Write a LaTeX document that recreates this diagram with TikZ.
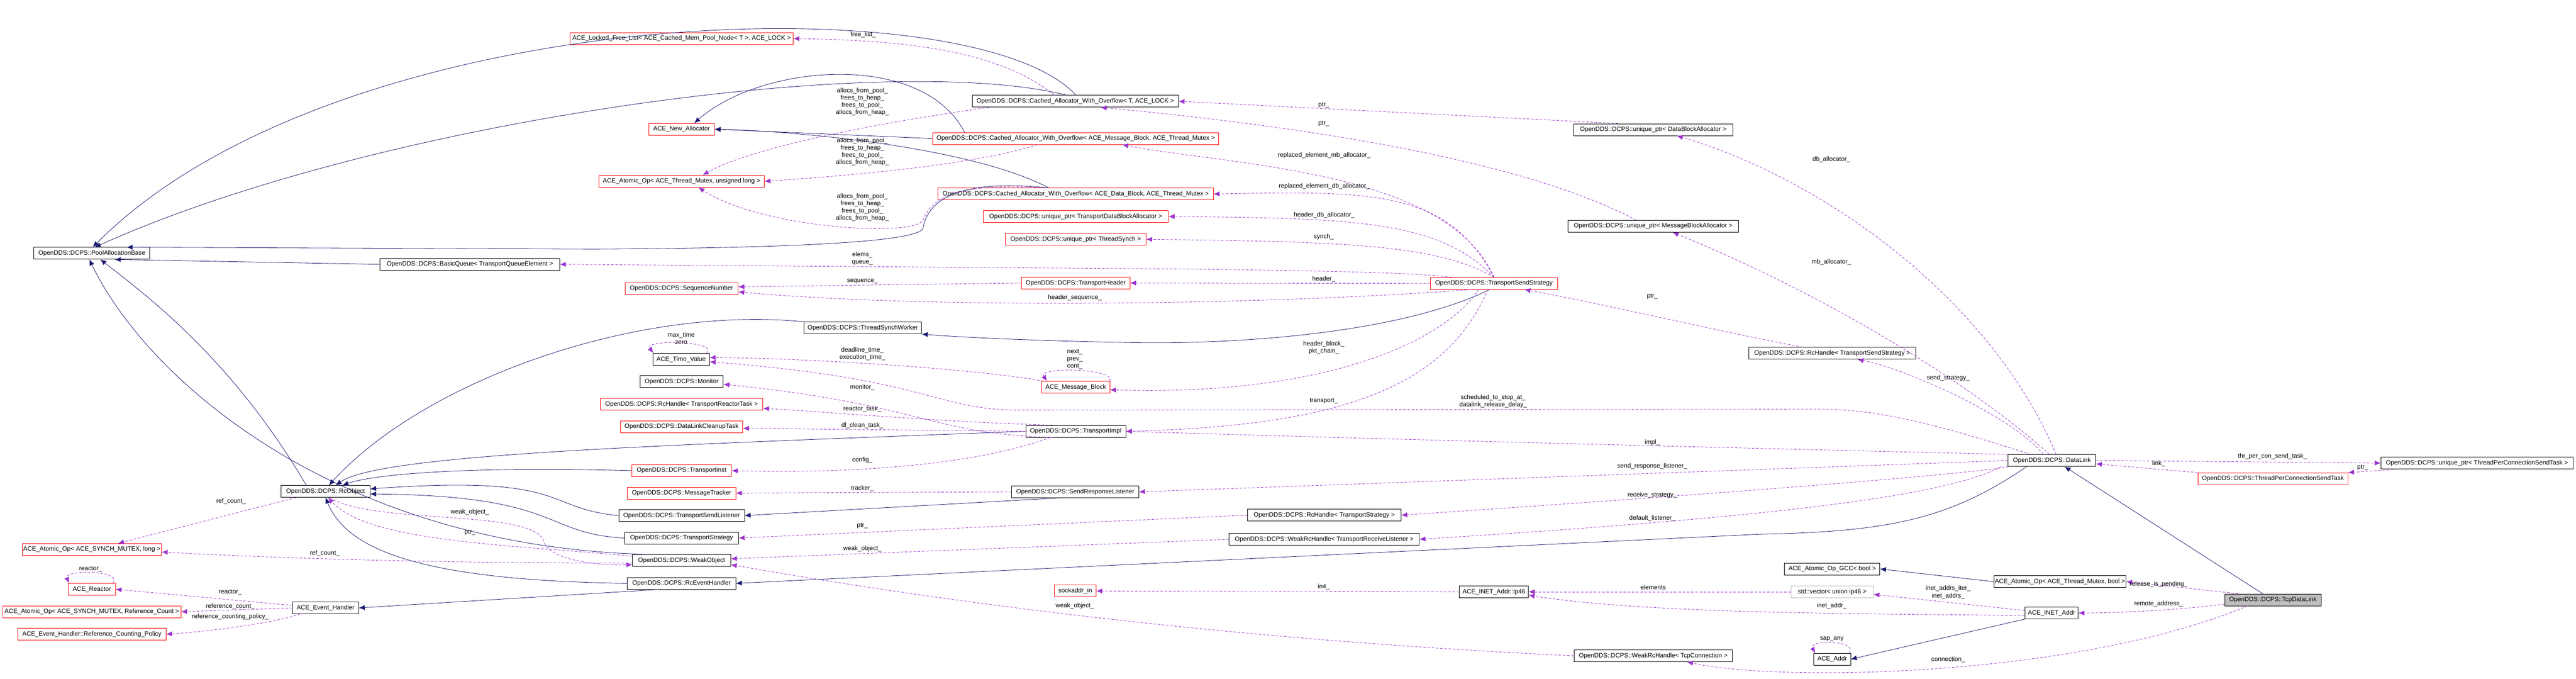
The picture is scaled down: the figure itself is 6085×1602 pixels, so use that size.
\documentclass[tikz,border=0pt]{standalone}
\usepackage{fontspec}
\setmainfont{Liberation Sans}
\usetikzlibrary{arrows.meta}
\definecolor{navyc}{RGB}{25,25,112}
\definecolor{purpc}{RGB}{154,50,205}
\definecolor{redc}{RGB}{255,0,0}
\definecolor{grayf}{RGB}{191,191,191}
\newcommand{\dxf}{\fontsize{7.4}{8.6}\selectfont}
\tikzset{
 box/.style={draw=black, fill=white, line width=0.5pt, minimum height=14pt, inner sep=1pt, font=\dxf},
 rbox/.style={box, draw=redc},
 gbox/.style={box, draw=grayf},
 inh/.style={draw=navyc, line width=0.5pt, -{Latex[length=7pt,width=6pt]}},
 use/.style={draw=purpc, line width=0.5pt, dashed, dash pattern=on 3pt off 2pt, -{Latex[length=7pt,width=6pt]}},
 lab/.style={font=\dxf, align=center, inner sep=0pt}
}
\begin{document}
\begin{tikzpicture}[x=0.5pt,y=-0.5pt]
\useasboundingbox (0,0) rectangle (6085,1602);
% nodes
\node[box, minimum width={274*0.5pt}] (PAB) at (217,598) {OpenDDS::DCPS::PoolAllocationBase};
\node[rbox, minimum width={527*0.5pt}] (LFL) at (1610,91) {ACE\_Locked\_Free\_List< ACE\_Cached\_Mem\_Pool\_Node< T >, ACE\_LOCK >};
\node[rbox, minimum width={155*0.5pt}] (NA) at (1610,305) {ACE\_New\_Allocator};
\node[rbox, minimum width={391*0.5pt}] (AOUL) at (1610,428) {ACE\_Atomic\_Op< ACE\_Thread\_Mutex, unsigned long >};
\node[box, minimum width={424*0.5pt}] (BQ) at (1110,624) {OpenDDS::DCPS::BasicQueue< TransportQueueElement >};
\node[rbox, minimum width={267*0.5pt}] (SN) at (1610,681) {OpenDDS::DCPS::SequenceNumber};
\node[box, minimum width={134*0.5pt}] (TV) at (1609,848) {ACE\_Time\_Value};
\node[box, minimum width={197*0.5pt}] (MON) at (1610,901) {OpenDDS::DCPS::Monitor};
\node[rbox, minimum width={384*0.5pt}] (RHTRT) at (1610,954) {OpenDDS::DCPS::RcHandle< TransportReactorTask >};
\node[rbox, minimum width={289*0.5pt}] (DLCT) at (1610,1007) {OpenDDS::DCPS::DataLinkCleanupTask};
\node[rbox, minimum width={236*0.5pt}] (TI) at (1610,1111) {OpenDDS::DCPS::TransportInst};
\node[rbox, minimum width={256*0.5pt}] (MT) at (1610,1164) {OpenDDS::DCPS::MessageTracker};
\node[box, minimum width={297*0.5pt}] (TSL) at (1610,1217) {OpenDDS::DCPS::TransportSendListener};
\node[box, minimum width={269*0.5pt}] (TS) at (1610,1270) {OpenDDS::DCPS::TransportStrategy};
\node[box, minimum width={232*0.5pt}] (WO) at (1610,1323) {OpenDDS::DCPS::WeakObject};
\node[box, minimum width={256*0.5pt}] (REH) at (1610,1377) {OpenDDS::DCPS::RcEventHandler};
\node[box, minimum width={210*0.5pt}] (RCO) at (769,1160) {OpenDDS::DCPS::RcObject};
\node[rbox, minimum width={329*0.5pt}] (AOL) at (217,1297) {ACE\_Atomic\_Op< ACE\_SYNCH\_MUTEX, long >};
\node[rbox, minimum width={111*0.5pt}] (AR) at (217,1391) {ACE\_Reactor};
\node[rbox, minimum width={421*0.5pt}] (AORC) at (217,1444) {ACE\_Atomic\_Op< ACE\_SYNCH\_MUTEX, Reference\_Count >};
\node[rbox, minimum width={350*0.5pt}] (RCP) at (217,1497) {ACE\_Event\_Handler::Reference\_Counting\_Policy};
\node[box, minimum width={156*0.5pt}] (AEH) at (769,1435) {ACE\_Event\_Handler};
\node[box, minimum width={487*0.5pt}] (CT) at (2540,239) {OpenDDS::DCPS::Cached\_Allocator\_With\_Overflow< T, ACE\_LOCK >};
\node[rbox, minimum width={676*0.5pt}] (CMB) at (2541,327) {OpenDDS::DCPS::Cached\_Allocator\_With\_Overflow< ACE\_Message\_Block, ACE\_Thread\_Mutex >};
\node[rbox, minimum width={650*0.5pt}] (CDB) at (2541,458) {OpenDDS::DCPS::Cached\_Allocator\_With\_Overflow< ACE\_Data\_Block, ACE\_Thread\_Mutex >};
\node[rbox, minimum width={438*0.5pt}] (UTDBA) at (2541,511) {OpenDDS::DCPS::unique\_ptr< TransportDataBlockAllocator >};
\node[rbox, minimum width={332*0.5pt}] (UTS) at (2541,565) {OpenDDS::DCPS::unique\_ptr< ThreadSynch >};
\node[rbox, minimum width={256*0.5pt}] (TH) at (2541,668) {OpenDDS::DCPS::TransportHeader};
\node[box, minimum width={278*0.5pt}] (TSW) at (2038,774) {OpenDDS::DCPS::ThreadSynchWorker};
\node[rbox, minimum width={161*0.5pt}] (AMB) at (2541,914) {ACE\_Message\_Block};
\node[box, minimum width={236*0.5pt}] (TIMP) at (2541,1018) {OpenDDS::DCPS::TransportImpl};
\node[box, minimum width={300*0.5pt}] (SRL) at (2540,1161) {OpenDDS::DCPS::SendResponseListener};
\node[box, minimum width={363*0.5pt}] (RHTS) at (3128,1216) {OpenDDS::DCPS::RcHandle< TransportStrategy >};
\node[box, minimum width={449*0.5pt}] (WRTRL) at (3128,1273) {OpenDDS::DCPS::WeakRcHandle< TransportReceiveListener >};
\node[rbox, minimum width={98*0.5pt}] (SIN) at (2540,1395) {sockaddr\_in};
\node[box, minimum width={376*0.5pt}] (UDBA) at (3905,306) {OpenDDS::DCPS::unique\_ptr< DataBlockAllocator >};
\node[box, minimum width={402*0.5pt}] (UMBA) at (3905,534) {OpenDDS::DCPS::unique\_ptr< MessageBlockAllocator >};
\node[rbox, minimum width={300*0.5pt}] (TSS) at (3529,669) {OpenDDS::DCPS::TransportSendStrategy};
\node[box, minimum width={395*0.5pt}] (RHTSS) at (4328,834) {OpenDDS::DCPS::RcHandle< TransportSendStrategy >};
\node[box, minimum width={225*0.5pt}] (GCC) at (4328,1343) {ACE\_Atomic\_Op\_GCC< bool >};
\node[box, minimum width={163*0.5pt}] (IP46) at (3529,1397) {ACE\_INET\_Addr::ip46};
\node[gbox, minimum width={194*0.5pt}] (VEC) at (4328,1397) {std::vector< union ip46 >};
\node[box, minimum width={374*0.5pt}] (WRTC) at (3905,1548) {OpenDDS::DCPS::WeakRcHandle< TcpConnection >};
\node[box, minimum width={87*0.5pt}] (ADDR) at (4328,1556) {ACE\_Addr};
\node[box, minimum width={207*0.5pt}] (DL) at (4847,1087) {OpenDDS::DCPS::DataLink};
\node[box, minimum width={454*0.5pt}] (UTPC) at (5851,1093) {OpenDDS::DCPS::unique\_ptr< ThreadPerConnectionSendTask >};
\node[rbox, minimum width={354*0.5pt}] (TPC) at (5369,1130) {OpenDDS::DCPS::ThreadPerConnectionSendTask};
\node[box, minimum width={290*0.5pt}] (AOB) at (4866,1373) {ACE\_Atomic\_Op< ACE\_Thread\_Mutex, bool >};
\node[box, minimum width={126*0.5pt}] (INET) at (4846,1447) {ACE\_INET\_Addr};
\node[box, fill=grayf, minimum width={227*0.5pt}] (TCP) at (5369,1416) {OpenDDS::DCPS::TcpDataLink};
% inheritance
\draw[inh] (CT.85) .. controls (2300,-40) and (800,0) .. (PAB.82);
\draw[inh] (CT.145) .. controls (2100,120) and (900,280) .. (PAB.65);
\draw[inh] ([xshift=38pt]CMB.north west) .. controls (2180,120) and (1800,150) .. ([xshift=15pt]NA.north);
\draw[inh] (CMB.west) -- (NA.east);
\draw[inh] ([xshift=131pt]CDB.north west) .. controls (2300,350) and (1900,310) .. (NA.east);
\draw[inh] ([xshift=130pt]CDB.north west) .. controls (2250,420) and (2190,480) .. (2180,540) .. controls (2160,575) and (1800,586) .. (1400,588) -- (PAB.10);
\draw[inh] (BQ.west) -- (PAB.345);
\draw[inh] ([xshift=30pt]RCO.north west) .. controls (550,850) and (350,700) .. ([xshift=10pt]PAB.south);
\draw[inh] (WO.170) .. controls (800,1290) and (350,900) .. ([xshift=-3pt]PAB.south);
\draw[inh] (TSW.north west) .. controls (1500,720) and (1000,900) .. ([xshift=4pt]RCO.north);
\draw[inh] (TIMP.west) .. controls (1600,1050) and (900,1070) .. ([xshift=12pt]RCO.north);
\draw[inh] (TI.west) .. controls (1100,1100) and (880,1120) .. ([xshift=20pt]RCO.north);
\draw[inh] (TSL.west) .. controls (1280,1200) and (1350,1120) .. ([yshift=3pt]RCO.east);
\draw[inh] (TS.west) .. controls (1280,1260) and (1330,1170) .. ([yshift=-3pt]RCO.east);
\draw[inh] (REH.west) .. controls (1000,1370) and (820,1300) .. (RCO.south);
\draw[inh] (REH.195) -- (AEH.east);
\draw[inh] (SRL.200) -- (TSL.east);
\draw[inh] ([xshift=-30pt]DL.south) .. controls (4600,1230) and (4450,1255) .. (4157,1261) -- (REH.east);
\draw[inh] ([xshift=-5pt]TSS.south) .. controls (3300,790) and (2900,815) .. (2650,808) .. controls (2450,805) and (2250,795) .. (TSW.south east);
\draw[inh] ([xshift=-12pt]TCP.north) -- ([xshift=15pt]DL.south);
\draw[inh] (AOB.west) -- (GCC.east);
\draw[inh] (INET.south west) -- (ADDR.east);
% usage
\draw[use] ([xshift=-25pt]CT.north) .. controls (2350,110) and (2100,95) .. (LFL.east);
\draw[use] ([xshift=20pt]CT.south west) .. controls (2000,300) and (1750,360) .. ([xshift=25pt]AOUL.north);
\draw[use] ([xshift=-45pt]CMB.south) .. controls (2300,390) and (2000,415) .. (AOUL.east);
\draw[use] ([xshift=-37pt]CDB.north) .. controls (2250,430) and (2200,470) .. (2180,520) .. controls (2160,560) and (1800,540) .. ([xshift=20pt]AOUL.south);
\draw[use] (UDBA.170) -- (CT.east);
\draw[use] ([xshift=-20pt]UMBA.north) .. controls (3600,380) and (3100,300) .. ([xshift=30pt]CT.south);
\draw[use] (TSS.north) .. controls (3420,400) and (2900,390) .. ([xshift=55pt]CMB.south);
\draw[use] (TSS.north) .. controls (3420,450) and (3250,450) .. (CDB.east);
\draw[use] (TSS.north) .. controls (3400,520) and (3200,515) .. (UTDBA.east);
\draw[use] (TSS.north) .. controls (3400,580) and (3200,570) .. (UTS.east);
\draw[use] ([xshift=-50pt]TSS.north) .. controls (3350,645) and (3200,640) .. (2800,635) -- (BQ.east);
\draw[use] (TSS.west) -- (TH.east);
\draw[use] (TSS.195) .. controls (3000,720) and (2200,730) .. ([yshift=-4pt]SN.east);
\draw[use] (TH.west) -- ([yshift=2pt]SN.east);
\draw[use] ([xshift=-18pt]TSS.south) .. controls (3400,820) and (3100,935) .. ([yshift=-3pt]AMB.east);
\draw[use] ([xshift=40pt]AMB.north) .. controls (2640,870) and (2450,865) .. ([xshift=-34pt]AMB.north);
\draw[use] ([xshift=30pt]TV.north) .. controls (1700,805) and (1520,800) .. ([xshift=-33pt]TV.north);
\draw[use] ([xshift=-38pt]AMB.north) .. controls (2300,870) and (1900,845) .. ([yshift=2pt]TV.east);
\draw[use] (TIMP.195) .. controls (2200,1025) and (2180,955) .. ([yshift=-3pt]MON.east);
\draw[use] (TIMP.165) .. controls (2200,995) and (2000,975) .. ([yshift=-5pt]RHTRT.east);
\draw[use] (TIMP.west) -- ([yshift=-2pt]DLCT.east);
\draw[use] ([xshift=-30pt]TIMP.south) .. controls (2300,1100) and (2000,1118) .. (TI.east);
\draw[use] (SRL.west) -- (MT.east);
\draw[use] (RHTS.west) -- (TS.east);
\draw[use] (WRTRL.west) -- ([yshift=2pt]WO.east);
\draw[use] (WRTC.west) .. controls (2700,1500) and (2000,1380) .. ([yshift=-5pt]WO.east);
\draw[use] ([xshift=-7pt]TSS.south) .. controls (3420,900) and (3200,1005) .. (TIMP.east);
\draw[use] (DL.172) .. controls (4000,1055) and (3200,1035) .. (TIMP.east);
\draw[use] ([xshift=-25pt]DL.north) .. controls (4600,1010) and (4450,966) .. (4300,966) -- (2400,968) .. controls (2200,965) and (2200,895) .. ([yshift=-3pt]TV.east);
\draw[use] (DL.west) -- (SRL.east);
\draw[use] (DL.188) .. controls (4650,1120) and (4000,1170) .. (RHTS.east);
\draw[use] ([xshift=-60pt]DL.south) .. controls (4600,1170) and (4200,1220) .. (WRTRL.east);
\draw[use] ([xshift=-10pt]DL.north) .. controls (4750,980) and (4500,870) .. ([xshift=30pt]RHTSS.south);
\draw[use] ([xshift=-3pt]DL.north) .. controls (4650,900) and (4300,690) .. ([xshift=23pt]UMBA.south);
\draw[use] ([xshift=5pt]DL.north) .. controls (4700,700) and (4300,420) .. ([xshift=28pt]UDBA.south);
\draw[use] ([xshift=-35pt]RHTSS.north) .. controls (4050,780) and (3800,720) .. ([xshift=36pt]TSS.south);
\draw[use] (DL.east) -- (UTPC.west);
\draw[use] (TPC.north west) -- ([yshift=-4pt]DL.east);
\draw[use] ([xshift=20pt]UTPC.south west) -- (TPC.north east);
\draw[use] (TCP.170) -- (AOB.east);
\draw[use] ([yshift=-5pt]TCP.west) .. controls (5150,1440) and (5000,1447) .. (INET.east);
\draw[use] ([xshift=-30pt]TCP.south) .. controls (4900,1600) and (4200,1610) .. ([xshift=40pt]WRTC.south);
\draw[use] ([yshift=3pt]INET.west) -- ([yshift=-3pt]VEC.east);
\draw[use] ([yshift=-3pt]INET.west) .. controls (4400,1448) and (3900,1450) .. ([yshift=-4pt]IP46.east);
\draw[use] (VEC.west) -- (IP46.east);
\draw[use] (IP46.west) -- (SIN.east);
\draw[use] ([xshift=20pt]ADDR.north) .. controls (4390,1510) and (4270,1510) .. ([xshift=-20pt]ADDR.north);
\draw[use] ([xshift=-35pt]RCO.south) -- ([xshift=31pt]AOL.north);
\draw[use] ([yshift=-3pt]WO.west) .. controls (1000,1330) and (600,1315) .. ([yshift=-3pt]AOL.east);
\draw[use] ([xshift=5pt]RCO.south) .. controls (880,1240) and (1270,1200) .. (1285,1280) .. controls (1300,1320) and (1400,1335) .. ([yshift=-5pt]WO.west);
\draw[use] ([yshift=5pt]WO.west) .. controls (1200,1285) and (870,1280) .. ([xshift=3pt]RCO.south);
\draw[use] ([yshift=3pt]AEH.west) -- (AR.east);
\draw[use] ([xshift=25pt]AR.north) .. controls (290,1345) and (150,1345) .. ([xshift=-27pt]AR.north);
\draw[use] (AEH.west) -- (AORC.east);
\draw[use] ([xshift=-30pt]AEH.south) .. controls (650,1470) and (500,1490) .. (RCP.east);
% labels
\node[lab] (l1) at (2039,82) {free\_list\_};
\node[lab] (l2) at (2037,240) {allocs\_from\_pool\_\\frees\_to\_heap\_\\frees\_to\_pool\_\\allocs\_from\_heap\_};
\node[lab] (l3) at (2037,358) {allocs\_from\_pool\_\\frees\_to\_heap\_\\frees\_to\_pool\_\\allocs\_from\_heap\_};
\node[lab] (l4) at (2037,490) {allocs\_from\_pool\_\\frees\_to\_heap\_\\frees\_to\_pool\_\\allocs\_from\_heap\_};
\node[lab] (l5) at (3127,248) {ptr\_};
\node[lab] (l6) at (3127,292) {ptr\_};
\node[lab] (l7) at (3128,367) {replaced\_element\_mb\_allocator\_};
\node[lab] (l8) at (3128,440) {replaced\_element\_db\_allocator\_};
\node[lab] (l9) at (3128,508) {header\_db\_allocator\_};
\node[lab] (l10) at (3127,559) {synch\_};
\node[lab] (l11) at (2037,610) {elems\_\\queue\_};
\node[lab] (l12) at (3127,659) {header\_};
\node[lab] (l13) at (2037,664) {sequence\_};
\node[lab] (l14) at (2539,703) {header\_sequence\_};
\node[lab] (l15) at (1609,798) {max\_time\\zero};
\node[lab] (l16) at (2037,835) {deadline\_time\_\\execution\_time\_};
\node[lab] (l17) at (2539,848) {next\_\\prev\_\\cont\_};
\node[lab] (l18) at (3127,821) {header\_block\_\\pkt\_chain\_};
\node[lab] (l19) at (2037,914) {monitor\_};
\node[lab] (l20) at (3127,946) {transport\_};
\node[lab] (l21) at (2037,966) {reactor\_task\_};
\node[lab] (l22) at (2037,1004) {dl\_clean\_task\_};
\node[lab] (l23) at (2037,1086) {config\_};
\node[lab] (l24) at (2037,1153) {tracker\_};
\node[lab] (l25) at (2037,1241) {ptr\_};
\node[lab] (l26) at (2037,1295) {weak\_object\_};
\node[lab] (l27) at (3127,1385) {in4\_};
\node[lab] (l28) at (2539,1430) {weak\_object\_};
\node[lab] (l29) at (3527,947) {scheduled\_to\_stop\_at\_\\datalink\_release\_delay\_};
\node[lab] (l30) at (3903,1044) {impl\_};
\node[lab] (l31) at (3903,1101) {send\_response\_listener\_};
\node[lab] (l32) at (3903,1169) {receive\_strategy\_};
\node[lab] (l33) at (3903,1223) {default\_listener\_};
\node[lab] (l34) at (4602,892) {send\_strategy\_};
\node[lab] (l35) at (3905,1386) {elements};
\node[lab] (l36) at (4602,1398) {inet\_addrs\_iter\_\\inet\_addrs\_};
\node[lab] (l37) at (4327,1430) {inet\_addr\_};
\node[lab] (l38) at (4327,1509) {sap\_any};
\node[lab] (l39) at (4602,1557) {connection\_};
\node[lab] (l40) at (4326,376) {db\_allocator\_};
\node[lab] (l41) at (4326,619) {mb\_allocator\_};
\node[lab] (l42) at (3903,699) {ptr\_};
\node[lab] (l43) at (5368,1078) {thr\_per\_con\_send\_task\_};
\node[lab] (l44) at (5099,1094) {link\_};
\node[lab] (l45) at (5581,1104) {ptr\_};
\node[lab] (l46) at (5099,1379) {release\_is\_pending\_};
\node[lab] (l47) at (5099,1426) {remote\_address\_};
\node[lab] (l48) at (546,1183) {ref\_count\_};
\node[lab] (l49) at (767,1306) {ref\_count\_};
\node[lab] (l50) at (1110,1209) {weak\_object\_};
\node[lab] (l51) at (1110,1257) {ptr\_};
\node[lab] (l52) at (214,1343) {reactor\_};
\node[lab] (l53) at (544,1398) {reactor\_};
\node[lab] (l54) at (544,1431) {reference\_count\_};
\node[lab] (l55) at (544,1456) {reference\_counting\_policy\_};
\end{tikzpicture}
\end{document}
